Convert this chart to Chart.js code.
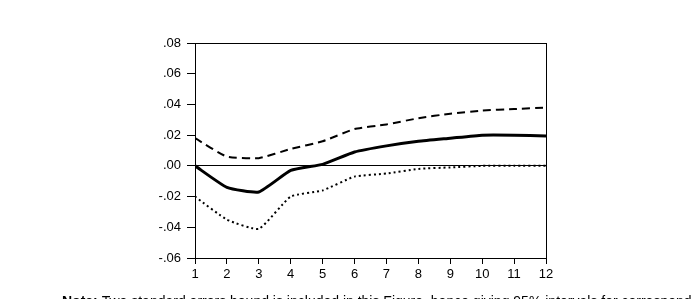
<!DOCTYPE html>
<html>
<head>
<meta charset="utf-8">
<script src="https://cdn.jsdelivr.net/npm/chart.js@4"></script>
<style>
  html, body { margin: 0; padding: 0; background: #fff; }
  #wrap { width: 696px; height: 299px; }
</style>
</head>
<body>
<div id="wrap"><canvas id="irf" width="696" height="299"></canvas></div>
<script>
// periods and impulse response values
const periods = [1, 2, 3, 4, 5, 6, 7, 8, 9, 10, 11, 12];
const response = [0.000, -0.014, -0.017, -0.003, 0.001, 0.009, 0.013, 0.016, 0.018, 0.020, 0.020, 0.0195];
const upperBand = [0.018, 0.006, 0.005, 0.011, 0.016, 0.024, 0.027, 0.031, 0.034, 0.036, 0.037, 0.038];
const lowerBand = [-0.020, -0.035, -0.041, -0.020, -0.016, -0.007, -0.005, -0.002, -0.001, 0.000, 0.000, 0.000];
const yTicks = [-0.06, -0.04, -0.02, 0.00, 0.02, 0.04, 0.06, 0.08];

const noteText = "Two standard errors bound is included in this Figure, hence giving 95% intervals for correspond";

function pts(vals) {
    return vals.map((v, i) => ({ x: periods[i], y: v }));
}

function fmt(v) {
    let s = Math.abs(v).toFixed(2).replace(/^0/, "");
    return (v < -1e-9 ? "-" : "") + s;
}

// frame around the plot + note line under it
const framePlugin = {
    id: "frame",
    afterDraw(chart) {
        const c = chart.ctx, a = chart.chartArea;
        c.save();
        c.strokeStyle = "#000";
        c.lineWidth = 1;
        c.strokeRect(a.left + 0.5, a.top + 0.5, a.right - a.left, a.bottom - a.top);
        c.fillStyle = "#000";
        c.textBaseline = "alphabetic";
        c.font = "bold 14px 'Liberation Sans', Arial, sans-serif";
        c.fillText("Note:", 62, 306);
        const w = c.measureText("Note: ").width;
        c.font = "14px 'Liberation Sans', Arial, sans-serif";
        c.fillText(noteText, 62 + w, 306);
        c.restore();
    }
};

const ctx = document.getElementById("irf").getContext("2d");
new Chart(ctx, {
    type: "line",
    data: {
        datasets: [
            {
                data: pts(response),
                borderColor: "#000",
                borderWidth: 3,
                pointRadius: 0,
                tension: 0.15
            },
            {
                data: pts(upperBand),
                borderColor: "#000",
                borderWidth: 2,
                borderDash: [8, 5],
                pointRadius: 0,
                tension: 0.15
            },
            {
                data: pts(lowerBand),
                borderColor: "#000",
                borderWidth: 2,
                borderDash: [2, 3],
                pointRadius: 0,
                tension: 0.15
            }
        ]
    },
    options: {
        responsive: false,
        animation: false,
        layout: { padding: { top: 43, right: 150, left: 0, bottom: 0 } },
        plugins: { legend: { display: false }, tooltip: { enabled: false } },
        scales: {
            x: {
                type: "linear",
                min: 1,
                max: 12,
                afterFit: s => { s.height = 41; },
                afterBuildTicks: s => { s.ticks = periods.map(v => ({ value: v })); },
                grid: { drawOnChartArea: false, tickLength: 6, tickColor: "#000" },
                border: { color: "#000" },
                ticks: {
                    color: "#000",
                    padding: 3,
                    maxRotation: 0,
                    autoSkip: false,
                    font: { family: "'Liberation Sans', Arial, sans-serif", size: 13 }
                }
            },
            y: {
                min: -0.06,
                max: 0.08,
                afterFit: s => { s.width = 195; },
                afterBuildTicks: s => { s.ticks = yTicks.map(v => ({ value: v })); },
                grid: {
                    color: c => (Math.abs(c.tick.value) < 1e-9 ? "#000" : "rgba(0,0,0,0)"),
                    tickColor: "#000",
                    tickLength: 8
                },
                border: { color: "#000" },
                ticks: {
                    color: "#000",
                    padding: 6,
                    callback: v => fmt(v),
                    font: { family: "'Liberation Sans', Arial, sans-serif", size: 13 }
                }
            }
        }
    },
    plugins: [framePlugin]
});
</script>
</body>
</html>
